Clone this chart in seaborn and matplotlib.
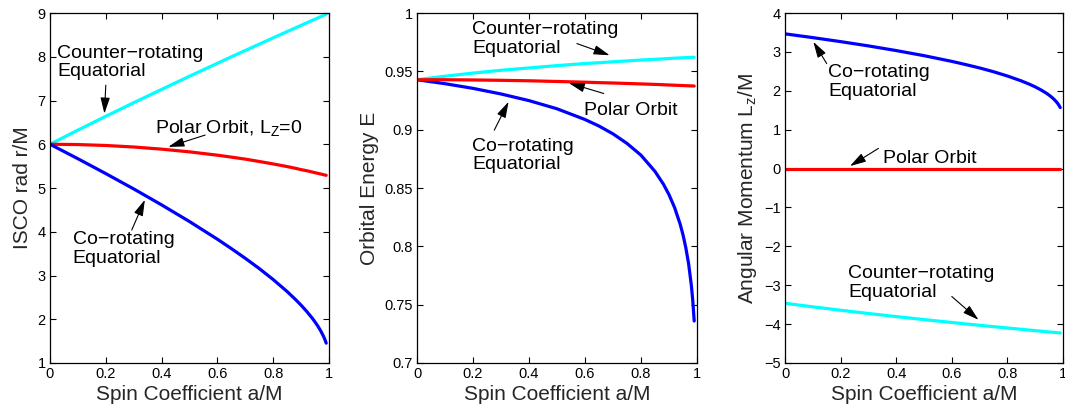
import numpy as np
import pandas as pd
import matplotlib
matplotlib.use("Agg")
import matplotlib.pyplot as plt
import seaborn as sns

# ---------------- data ----------------
spin = [0.0, 0.1, 0.2, 0.3, 0.4, 0.5, 0.6, 0.65, 0.7, 0.75, 0.8, 0.85, 0.88, 0.9,
        0.92, 0.94, 0.95, 0.96, 0.97, 0.98, 0.985, 0.99]

r_co = [6.0, 5.669, 5.329, 4.979, 4.614, 4.233, 3.829, 3.615, 3.393, 3.159, 2.907,
        2.633, 2.451, 2.321, 2.180, 2.024, 1.937, 1.843, 1.738, 1.614, 1.541, 1.454]
r_counter = [6.0, 6.323, 6.639, 6.949, 7.253, 7.555, 7.850, 7.998, 8.143, 8.288, 8.432,
             8.575, 8.660, 8.717, 8.774, 8.831, 8.859, 8.887, 8.916, 8.944, 8.958, 8.972]
r_polar = [6.0, 5.993, 5.972, 5.937, 5.888, 5.826, 5.75, 5.706, 5.66, 5.606, 5.55,
           5.49, 5.45, 5.42, 5.395, 5.365, 5.35, 5.335, 5.32, 5.305, 5.297, 5.29]

e_co = [0.9428, 0.9394, 0.9354, 0.9306, 0.9249, 0.9179, 0.9087, 0.9031, 0.8964, 0.8882, 0.8781,
        0.8642, 0.8533, 0.8443, 0.8332, 0.8189, 0.8099, 0.7989, 0.7851, 0.7662, 0.7532, 0.7360]
e_counter = [0.9428, 0.9458, 0.9485, 0.9509, 0.9529, 0.9549, 0.9567, 0.9574, 0.9582, 0.9589, 0.9597,
             0.9603, 0.9607, 0.9610, 0.9613, 0.9615, 0.9616, 0.9618, 0.9619, 0.9620, 0.9621, 0.9621]
e_polar = [0.9428, 0.9428, 0.9426, 0.9423, 0.9419, 0.9413, 0.9407, 0.9403, 0.9400, 0.9396, 0.9392,
           0.9388, 0.9385, 0.9383, 0.9381, 0.9379, 0.9378, 0.9377, 0.9376, 0.9375, 0.9375, 0.9374]

l_co = [3.464, 3.367, 3.264, 3.154, 3.034, 2.903, 2.756, 2.674, 2.587, 2.490, 2.380,
        2.254, 2.166, 2.100, 2.025, 1.938, 1.888, 1.831, 1.765, 1.683, 1.632, 1.568]
l_counter = [-3.464, -3.556, -3.643, -3.727, -3.807, -3.884, -3.958, -3.995, -4.031, -4.066, -4.100,
             -4.134, -4.155, -4.168, -4.181, -4.195, -4.201, -4.208, -4.214, -4.221, -4.224, -4.227]
l_polar = [0.0] * len(spin)

x_ticks = [0, 0.2, 0.4, 0.6, 0.8, 1.0]
x_ticklabels = ["0", "0.2", "0.4", "0.6", "0.8", "1"]
y1_ticks = [1, 2, 3, 4, 5, 6, 7, 8, 9]
y1_ticklabels = ["1", "2", "3", "4", "5", "6", "7", "8", "9"]
y2_ticks = [0.7, 0.75, 0.8, 0.85, 0.9, 0.95, 1.0]
y2_ticklabels = ["0.7", "0.75", "0.8", "0.85", "0.9", "0.95", "1"]
y3_ticks = [-5, -4, -3, -2, -1, 0, 1, 2, 3, 4]
y3_ticklabels = ["\u22125", "\u22124", "\u22123", "\u22122", "\u22121", "0", "1", "2", "3", "4"]

# ---------------- style ----------------
sns.set_style("white")
plt.rcParams["font.family"] = ["Liberation Sans", "DejaVu Sans"]
plt.rcParams["mathtext.fontset"] = "custom"
plt.rcParams["mathtext.rm"] = "Liberation Sans"
plt.rcParams["mathtext.it"] = "Liberation Sans:italic"
plt.rcParams.update({
    "xtick.direction": "in", "ytick.direction": "in",
    "xtick.top": True, "ytick.right": True,
    "xtick.bottom": True, "ytick.left": True,
    "xtick.major.size": 4, "ytick.major.size": 4,
    "xtick.major.width": 0.8, "ytick.major.width": 0.8,
    "axes.edgecolor": "black", "axes.linewidth": 0.9,
    "xtick.color": "black", "ytick.color": "black",
})

W, H = 1065, 412
fig = plt.figure(figsize=(W / 100, H / 100), dpi=100)
positions = [
    [50 / W, 49 / H, 279 / W, 350 / H],
    [417 / W, 49 / H, 280 / W, 350 / H],
    [785 / W, 49 / H, 278 / W, 350 / H],
]
axes = [fig.add_axes(p) for p in positions]

LW = 2.3
TICK_FS = 10.5
LABEL_FS = 15
ANN_FS = 14
arrow_kw = dict(arrowstyle="-|>,head_length=0.75,head_width=0.22", color="black",
                lw=0.8, mutation_scale=13, shrinkA=0, shrinkB=0)


def add_label(ax, text, x, y, va="top"):
    ax.text(x, y, text, fontsize=ANN_FS, ha="left", va=va, linespacing=1.1, color="black")


def add_arrow(ax, tail, tip):
    ax.annotate("", xy=tip, xytext=tail, arrowprops=arrow_kw)


def setup(ax, yticks, yticklabels, ylim, ylabel):
    ax.set_xlim(0, 1)
    ax.set_ylim(*ylim)
    ax.set_xticks(x_ticks)
    ax.set_xticklabels(x_ticklabels, fontsize=TICK_FS)
    ax.set_yticks(yticks)
    ax.set_yticklabels(yticklabels, fontsize=TICK_FS)
    ax.set_xlabel("Spin Coefficient a/M", fontsize=LABEL_FS, labelpad=3)
    ax.set_ylabel(ylabel, fontsize=LABEL_FS, labelpad=4)
    for s in ax.spines.values():
        s.set_visible(True)
        s.set_color("black")
    ax.tick_params(axis="both", which="major", pad=3)


# ---------- panel 1 : ISCO radius ----------
ax = axes[0]
sns.lineplot(x=spin, y=r_counter, color="#00FFFF", lw=LW, ax=ax)
sns.lineplot(x=spin, y=r_polar, color="#FF0000", lw=LW, ax=ax)
sns.lineplot(x=spin, y=r_co, color="#0000FF", lw=LW, ax=ax)
setup(ax, y1_ticks, y1_ticklabels, (1, 9), "ISCO rad r/M")
add_label(ax, "Counter\u2212rotating\nEquatorial", 0.026, 8.27)
add_arrow(ax, (0.20, 7.35), (0.195, 6.70))
add_label(ax, r"Polar Orbit, L$_\mathregular{Z}$=0", 0.376, 6.25, va="baseline")
add_arrow(ax, (0.556, 6.21), (0.424, 5.94))
add_label(ax, "Co\u2212rotating\nEquatorial", 0.081, 4.01)
add_arrow(ax, (0.293, 4.04), (0.34, 4.73))

# ---------- panel 2 : orbital energy ----------
ax = axes[1]
sns.lineplot(x=spin, y=e_co, color="#0000FF", lw=LW, ax=ax)
sns.lineplot(x=spin, y=e_counter, color="#00FFFF", lw=LW, ax=ax)
sns.lineplot(x=spin, y=e_polar, color="#FF0000", lw=LW, ax=ax)
setup(ax, y2_ticks, y2_ticklabels, (0.7, 1.0), "Orbital Energy E")
add_label(ax, "Counter\u2212rotating\nEquatorial", 0.196, 0.9928)
add_arrow(ax, (0.571, 0.9738), (0.688, 0.9638))
add_label(ax, "Polar Orbit", 0.595, 0.9124, va="baseline")
add_arrow(ax, (0.667, 0.931), (0.542, 0.940))
add_label(ax, "Co\u2212rotating\nEquatorial", 0.196, 0.8928)
add_arrow(ax, (0.276, 0.8996), (0.327, 0.9239))

# ---------- panel 3 : angular momentum ----------
ax = axes[2]
sns.lineplot(x=spin, y=l_co, color="#0000FF", lw=LW, ax=ax)
sns.lineplot(x=spin, y=l_polar, color="#FF0000", lw=LW, ax=ax)
sns.lineplot(x=spin, y=l_counter, color="#00FFFF", lw=LW, ax=ax)
setup(ax, y3_ticks, y3_ticklabels, (-5, 4), r"Angular Momentum L$_\mathregular{z}$/M")
add_label(ax, "Co\u2212rotating\nEquatorial", 0.156, 2.68)
add_arrow(ax, (0.150, 2.70), (0.102, 3.26))
add_label(ax, "Polar Orbit", 0.354, 0.15, va="baseline")
add_arrow(ax, (0.336, 0.518), (0.234, 0.065))
add_label(ax, "Counter\u2212rotating\nEquatorial", 0.228, -2.49)
add_arrow(ax, (0.600, -3.29), (0.696, -3.89))

fig.savefig("out.png", dpi=100)
